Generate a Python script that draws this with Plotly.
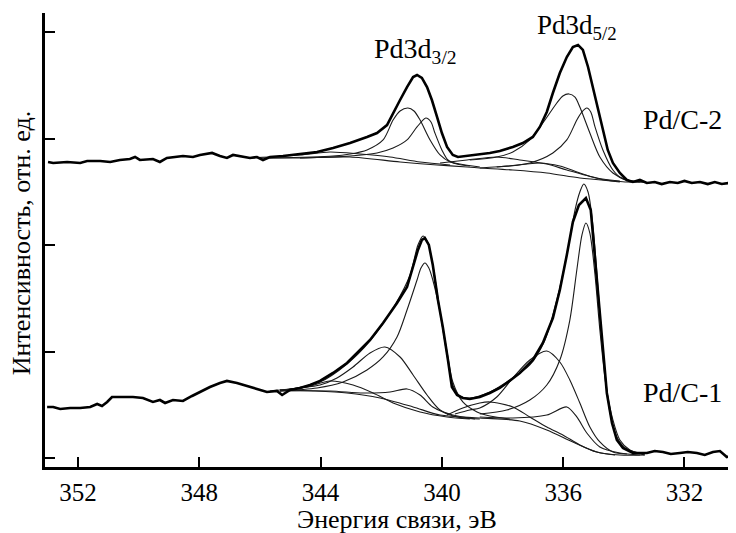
import plotly.graph_objects as go

# ---- data: (binding energy, eV ; intensity, rel. units) ----
# Pd/C-2 (upper) measured spectrum
up_meas = [(352.99, 2.784), (352.82, 2.775), (352.36, 2.784), (351.93, 2.775), (351.70, 2.793),
           (351.27, 2.793), (350.94, 2.784), (350.62, 2.803), (350.29, 2.812), (350.12, 2.831),
           (349.96, 2.803), (349.53, 2.812), (349.30, 2.784), (349.07, 2.822), (348.54, 2.840),
           (348.21, 2.831), (347.98, 2.850), (347.58, 2.869), (347.32, 2.840), (347.09, 2.822),
           (346.89, 2.850), (346.56, 2.831), (346.33, 2.822), (346.10, 2.831), (345.90, 2.803),
           (345.67, 2.831), (345.24, 2.840), (344.68, 2.859), (344.12, 2.878), (343.59, 2.915),
           (343.03, 2.962), (342.47, 3.019), (342.14, 3.056), (341.81, 3.131), (341.61, 3.244),
           (341.38, 3.366), (341.15, 3.488), (340.95, 3.582), (340.82, 3.601), (340.66, 3.573),
           (340.49, 3.488), (340.33, 3.366), (340.16, 3.207), (340.00, 3.056), (339.83, 2.925),
           (339.64, 2.850), (339.47, 2.831), (339.17, 2.840), (338.84, 2.850), (338.42, 2.869),
           (338.09, 2.887), (337.66, 2.925), (337.33, 2.962), (337.00, 3.019), (336.77, 3.113),
           (336.54, 3.254), (336.34, 3.432), (336.11, 3.620), (335.88, 3.770), (335.68, 3.864),
           (335.51, 3.883), (335.35, 3.836), (335.18, 3.676), (335.02, 3.488), (334.86, 3.272),
           (334.69, 3.085), (334.53, 2.897), (334.36, 2.775), (334.13, 2.681), (333.90, 2.615),
           (333.70, 2.596), (333.47, 2.615), (333.24, 2.587), (332.98, 2.596), (332.75, 2.577),
           (332.48, 2.596), (332.22, 2.587), (332.00, 2.606), (331.76, 2.587), (331.49, 2.596),
           (331.23, 2.577), (331.00, 2.596), (330.77, 2.577), (330.54, 2.587), (330.30, 2.577)]

up_bg = [(346.00, 2.822), (344.68, 2.822), (343.03, 2.831), (341.38, 2.784), (340.16, 2.756),
         (339.17, 2.737), (338.75, 2.728), (337.66, 2.709), (336.54, 2.681), (335.45, 2.634),
         (334.36, 2.606), (333.90, 2.596), (333.31, 2.596)]

up_d32_a = [(345.67, 2.822), (343.59, 2.840), (343.03, 2.859), (342.47, 2.897), (341.94, 2.991),
            (341.61, 3.178), (341.38, 3.263), (341.12, 3.291), (340.92, 3.263), (340.72, 3.178),
            (340.39, 2.991), (340.06, 2.850), (339.73, 2.784), (339.41, 2.765), (338.75, 2.737)]
up_d32_b = [(344.68, 2.822), (343.03, 2.840), (342.14, 2.869), (341.61, 2.915), (341.15, 2.991),
            (340.82, 3.113), (340.53, 3.197), (340.36, 3.160), (340.23, 3.056), (340.00, 2.897),
            (339.80, 2.803), (339.50, 2.765), (339.08, 2.746)]
up_sat_1 = [(346.33, 2.822), (344.68, 2.850), (343.69, 2.878), (342.70, 2.859), (341.71, 2.831),
            (340.72, 2.784), (339.73, 2.756)]
up_sat_2 = [(340.06, 2.775), (339.17, 2.803), (338.19, 2.831), (337.43, 2.803), (336.54, 2.765),
            (335.88, 2.709), (334.89, 2.634), (334.13, 2.606)]
up_sat_3 = [(338.75, 2.728), (337.76, 2.746), (336.77, 2.775), (336.11, 2.746), (335.45, 2.681),
            (334.79, 2.624), (334.13, 2.596)]
up_d52_a = [(339.08, 2.803), (338.19, 2.831), (337.66, 2.878), (337.10, 2.991), (336.67, 3.150),
            (336.21, 3.338), (336.01, 3.404), (335.81, 3.423), (335.61, 3.394), (335.45, 3.300),
            (335.12, 3.056), (334.79, 2.831), (334.36, 2.681), (333.90, 2.615), (333.31, 2.596)]
up_d52_b = [(338.19, 2.737), (337.10, 2.775), (336.34, 2.869), (335.88, 2.991), (335.55, 3.178),
            (335.38, 3.254), (335.22, 3.291), (335.09, 3.254), (334.95, 3.113), (334.69, 2.897),
            (334.36, 2.709), (334.03, 2.624), (333.47, 2.596)]

# Pd/C-1 (lower) measured spectrum
lo_meas = [(353.02, 0.484), (352.82, 0.484), (352.59, 0.465), (352.26, 0.474), (351.93, 0.474),
           (351.60, 0.484), (351.37, 0.512), (351.21, 0.493), (351.04, 0.531), (350.88, 0.577),
           (350.62, 0.577), (350.19, 0.577), (349.86, 0.568), (349.53, 0.531), (349.30, 0.549),
           (349.13, 0.521), (348.87, 0.549), (348.54, 0.540), (348.24, 0.587), (347.98, 0.624),
           (347.65, 0.671), (347.32, 0.709), (347.09, 0.728), (346.76, 0.709), (346.43, 0.681),
           (346.33, 0.671), (346.00, 0.643), (345.77, 0.624), (345.44, 0.634), (345.27, 0.596),
           (345.01, 0.643), (344.68, 0.662), (344.35, 0.690), (344.02, 0.728), (343.59, 0.803),
           (343.13, 0.897), (342.70, 1.019), (342.37, 1.113), (341.94, 1.272), (341.48, 1.460),
           (341.15, 1.610), (340.95, 1.798), (340.79, 1.958), (340.66, 2.052), (340.56, 2.070),
           (340.43, 2.005), (340.30, 1.817), (340.13, 1.488), (339.97, 1.235), (339.80, 0.925),
           (339.67, 0.671), (339.50, 0.596), (339.31, 0.568), (339.08, 0.559), (338.75, 0.577),
           (338.42, 0.615), (338.09, 0.662), (337.86, 0.709), (337.43, 0.803), (337.00, 0.925),
           (336.67, 1.085), (336.34, 1.319), (336.11, 1.582), (335.88, 1.911), (335.68, 2.221),
           (335.48, 2.380), (335.25, 2.446), (335.09, 2.333), (334.99, 2.005), (334.86, 1.582),
           (334.69, 0.972), (334.56, 0.615), (334.39, 0.333), (334.23, 0.174), (334.03, 0.099),
           (333.70, 0.052), (333.24, 0.052), (332.98, 0.070), (332.71, 0.061), (332.45, 0.042),
           (332.15, 0.052), (331.89, 0.061), (331.59, 0.052), (331.33, 0.033), (331.06, 0.061),
           (330.83, 0.070), (330.60, 0.014), (330.30, 0.033)]

lo_env = [(345.34, 0.634), (344.02, 0.718), (343.13, 0.887), (342.37, 1.103), (341.55, 1.441),
          (341.05, 1.723), (340.79, 2.005), (340.62, 2.089), (340.46, 2.023), (340.30, 1.817),
          (340.06, 1.376), (339.83, 0.972), (339.64, 0.690), (339.41, 0.587), (339.08, 0.568),
          (338.42, 0.624), (337.76, 0.737), (337.10, 0.878), (336.60, 1.113), (336.21, 1.488),
          (335.88, 1.911), (335.61, 2.333), (335.45, 2.502), (335.32, 2.577), (335.18, 2.502),
          (335.02, 2.192), (334.86, 1.629), (334.66, 0.925), (334.46, 0.437), (334.23, 0.202),
          (333.90, 0.089), (333.31, 0.042)]

lo_bg = [(345.34, 0.643), (344.25, 0.634), (343.13, 0.615), (342.04, 0.568), (340.95, 0.484),
         (340.06, 0.408), (338.75, 0.380), (337.43, 0.352), (336.54, 0.268), (335.68, 0.155),
         (334.89, 0.061), (334.13, 0.033), (333.31, 0.033)]

lo_d32_n = [(345.34, 0.634), (344.12, 0.662), (343.26, 0.718), (342.47, 0.831), (341.94, 0.953),
            (341.48, 1.141), (341.15, 1.394), (340.82, 1.676), (340.69, 1.789), (340.56, 1.836),
            (340.43, 1.789), (340.30, 1.676), (340.06, 1.376), (339.83, 1.000), (339.64, 0.718),
            (339.31, 0.531), (338.84, 0.437), (338.42, 0.399), (337.76, 0.371)]
lo_d32_w = [(345.34, 0.643), (344.68, 0.662), (344.02, 0.690), (343.46, 0.756), (342.93, 0.859),
            (342.37, 0.991), (341.88, 1.047), (341.38, 0.953), (340.95, 0.784), (340.49, 0.596),
            (340.06, 0.455), (339.50, 0.390), (338.75, 0.371)]
lo_sat_1 = [(345.67, 0.634), (345.01, 0.653), (344.45, 0.671), (343.69, 0.728), (342.93, 0.690),
            (342.27, 0.615), (341.61, 0.521), (340.72, 0.437), (339.83, 0.390), (339.08, 0.371)]
lo_sat_2 = [(345.34, 0.634), (343.69, 0.634), (342.60, 0.615), (341.71, 0.624), (341.15, 0.653),
            (340.72, 0.596), (340.30, 0.484), (339.64, 0.408), (338.91, 0.371)]
lo_d52_n = [(338.75, 0.418), (337.86, 0.455), (337.10, 0.549), (336.54, 0.690), (336.11, 0.925),
            (335.78, 1.300), (335.55, 1.770), (335.38, 2.099), (335.25, 2.211), (335.12, 2.117),
            (334.95, 1.723), (334.79, 1.207), (334.59, 0.690), (334.36, 0.362), (334.13, 0.174),
            (333.80, 0.080), (333.31, 0.033)]
lo_d52_w = [(339.57, 0.418), (339.08, 0.455), (338.75, 0.474), (338.19, 0.577), (337.66, 0.756),
            (337.10, 0.925), (336.54, 1.009), (336.11, 0.906), (335.78, 0.737), (335.45, 0.521),
            (335.12, 0.296), (334.79, 0.155), (334.36, 0.061), (333.90, 0.042)]
lo_sat_3 = [(339.83, 0.408), (339.31, 0.474), (338.75, 0.521), (338.42, 0.531), (337.66, 0.484),
            (337.10, 0.390), (336.54, 0.296), (336.01, 0.221), (335.45, 0.127), (334.89, 0.061),
            (334.29, 0.033)]
lo_sat_4 = [(338.75, 0.390), (337.66, 0.380), (336.54, 0.408), (335.88, 0.484), (335.55, 0.390),
            (335.22, 0.239), (334.79, 0.108), (334.13, 0.052), (333.47, 0.033)]

x_ticks = [352, 348, 344, 340, 336, 332]
y_ticks = [0, 1, 2, 3, 4]
sample_labels = ["Pd/C-2", "Pd/C-1"]
peak_labels = ["Pd3d<sub>3/2</sub>", "Pd3d<sub>5/2</sub>"]
x_title = "Энергия связи, эВ"
y_title = "Интенсивность, отн. ед."

FONT = "Liberation Serif"

fig = go.Figure()

thin = [up_bg, up_d32_a, up_d32_b, up_sat_1, up_sat_2, up_sat_3, up_d52_a, up_d52_b,
        lo_env, lo_bg, lo_d32_n, lo_d32_w, lo_sat_1, lo_sat_2, lo_d52_n, lo_d52_w, lo_sat_3, lo_sat_4]
for curve in thin:
    fig.add_trace(go.Scatter(x=[p[0] for p in curve], y=[p[1] for p in curve], mode="lines",
                             line=dict(color="#1a1a1a", width=1.1, shape="spline", smoothing=0.8),
                             showlegend=False, hoverinfo="skip"))
for curve in [up_meas, lo_meas]:
    fig.add_trace(go.Scatter(x=[p[0] for p in curve], y=[p[1] for p in curve], mode="lines",
                             line=dict(color="#000000", width=2.6),
                             showlegend=False, hoverinfo="skip"))

annots = [
    dict(x=332.05, y=3.18, xref="x", yref="y", text=sample_labels[0], showarrow=False,
         xanchor="center", yanchor="middle", font=dict(family=FONT, size=28, color="#000")),
    dict(x=332.05, y=0.62, xref="x", yref="y", text=sample_labels[1], showarrow=False,
         xanchor="center", yanchor="middle", font=dict(family=FONT, size=28, color="#000")),
    dict(x=340.86, y=3.83, xref="x", yref="y", text=peak_labels[0], showarrow=False,
         xanchor="center", yanchor="middle", font=dict(family=FONT, size=28, color="#000")),
    dict(x=335.55, y=4.05, xref="x", yref="y", text=peak_labels[1], showarrow=False,
         xanchor="center", yanchor="middle", font=dict(family=FONT, size=27, color="#000")),
    dict(x=0.509, y=-0.116, xref="paper", yref="paper", text=x_title, showarrow=False,
         xanchor="center", yanchor="middle", font=dict(family=FONT, size=26, color="#000")),
    dict(x=-0.0347, y=0.493, xref="paper", yref="paper", text=y_title, showarrow=False,
         xanchor="center", yanchor="middle", textangle=-90,
         font=dict(family=FONT, size=26, color="#000")),
]

fig.update_layout(
    width=736, height=533,
    margin=dict(l=37, r=8, t=5, b=74, autoexpand=False),
    paper_bgcolor="white", plot_bgcolor="white",
    annotations=annots,
    xaxis=dict(range=[353.09, 330.30], tickvals=x_ticks, ticks="inside", ticklen=10,
               tickwidth=2, tickcolor="#000", showline=True, linecolor="#000", linewidth=2.5,
               showgrid=False, zeroline=False, ticklabelstandoff=1,
               tickfont=dict(family=FONT, size=25, color="#000")),
    yaxis=dict(range=[-0.08, 4.183], tickvals=y_ticks, ticks="inside", ticklen=10,
               tickwidth=2, tickcolor="#000", showline=True, linecolor="#000", linewidth=2.5,
               showgrid=False, zeroline=False, showticklabels=False),
)

fig.write_html("out.html")
